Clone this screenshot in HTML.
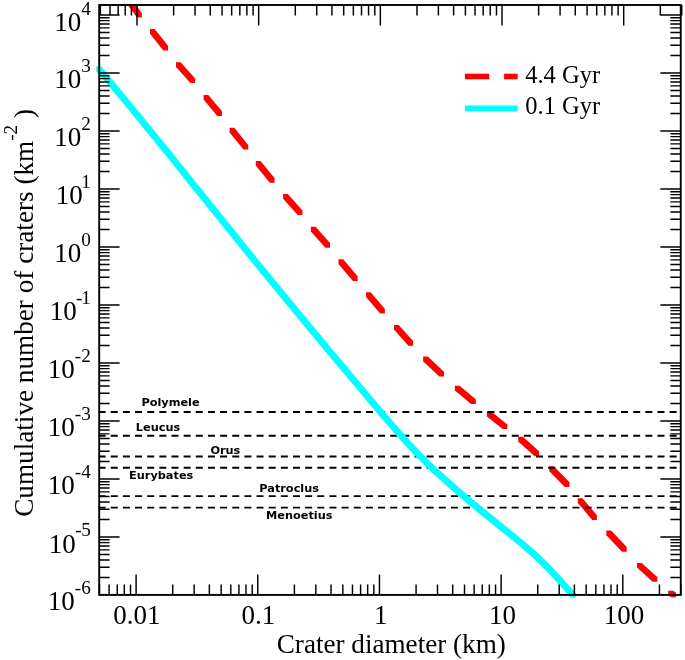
<!DOCTYPE html>
<html><head><meta charset="utf-8"><title>Cumulative number of craters</title>
<style>html,body{margin:0;padding:0;background:#fff}svg{display:block}text{font-family:"Liberation Serif","Times New Roman",serif;fill:#000}.n{font-family:"DejaVu Sans","Liberation Sans",sans-serif;font-weight:bold;font-size:11.3px}</style>
</head><body>
<svg width="685" height="660" viewBox="0 0 685 660">
<rect width="685" height="660" fill="#fff"/>
<clipPath id="cp"><rect x="0" y="4" width="685" height="656"/></clipPath>
<g fill="#ff0000" clip-path="url(#cp)">
<polygon points="126.00,-2.00 130.70,-2.00 141.80,12.90 141.80,17.60 137.10,17.60 126.00,2.70"/>
<polygon points="150.00,29.10 154.70,29.10 168.00,45.80 168.00,50.50 163.30,50.50 150.00,33.80"/>
<polygon points="176.00,62.20 180.70,62.20 195.10,78.40 195.10,83.10 190.40,83.10 176.00,66.90"/>
<polygon points="203.60,94.90 208.30,94.90 222.00,111.30 222.00,116.00 217.30,116.00 203.60,99.60"/>
<polygon points="229.60,127.80 234.30,127.80 248.20,144.90 248.20,149.60 243.50,149.60 229.60,132.50"/>
<polygon points="255.80,160.90 260.50,160.90 274.50,178.00 274.50,182.70 269.80,182.70 255.80,165.60"/>
<polygon points="283.10,194.00 287.80,194.00 302.40,210.40 302.40,215.10 297.70,215.10 283.10,198.70"/>
<polygon points="310.90,226.70 315.60,226.70 330.00,243.10 330.00,247.80 325.30,247.80 310.90,231.40"/>
<polygon points="338.50,259.30 343.20,259.30 357.60,276.20 357.60,280.90 352.90,280.90 338.50,264.00"/>
<polygon points="366.00,292.30 370.70,292.30 384.90,308.90 384.90,313.60 380.20,313.60 366.00,297.00"/>
<polygon points="394.00,324.90 398.70,324.90 413.10,341.10 413.10,345.80 408.40,345.80 394.00,329.60"/>
<polygon points="423.10,356.50 427.80,356.50 444.00,371.80 444.00,376.50 439.30,376.50 423.10,361.20"/>
<polygon points="454.90,385.80 459.60,385.80 475.80,399.30 475.80,404.00 471.10,404.00 454.90,390.50"/>
<polygon points="486.90,411.80 491.60,411.80 507.30,424.40 507.30,429.10 502.60,429.10 486.90,416.50"/>
<polygon points="518.20,436.70 522.90,436.70 539.10,451.30 539.10,456.00 534.40,456.00 518.20,441.40"/>
<polygon points="549.10,466.20 553.80,466.20 569.50,482.20 569.50,486.90 564.80,486.90 549.10,470.90"/>
<polygon points="577.80,498.20 582.50,498.20 596.90,515.20 596.90,519.90 592.20,519.90 577.80,502.90"/>
<polygon points="606.40,530.60 611.10,530.60 626.70,547.10 626.70,551.80 622.00,551.80 606.40,535.30"/>
<polygon points="637.00,562.90 641.70,562.90 657.30,577.10 657.30,581.80 652.60,581.80 637.00,567.60"/>
<polygon points="668.20,590.80 672.90,590.80 676.00,592.60 676.00,597.30 671.30,597.30 668.20,595.50"/>
</g>
<g stroke="#000" stroke-width="1.8" stroke-dasharray="7.0 5.15" fill="none">
<line x1="98.6" y1="412.0" x2="680.75" y2="412.0"/>
<line x1="98.6" y1="435.75" x2="680.75" y2="435.75"/>
<line x1="98.6" y1="456.5" x2="680.75" y2="456.5"/>
<line x1="98.6" y1="467.75" x2="680.75" y2="467.75"/>
<line x1="98.6" y1="496.1" x2="680.75" y2="496.1"/>
<line x1="98.6" y1="507.7" x2="680.75" y2="507.7"/>
</g>
<polyline points="98.80,68.89 102.80,73.62 106.80,78.38 110.80,83.15 114.80,87.94 118.80,92.75 122.80,97.58 126.80,102.42 130.80,107.27 134.80,112.14 138.80,117.02 142.80,121.92 146.80,126.82 150.80,131.74 154.80,136.66 158.80,141.60 162.80,146.54 166.80,151.50 170.80,156.45 174.80,161.42 178.80,166.39 182.80,171.36 186.80,176.34 190.80,181.31 194.80,186.30 198.80,191.28 202.80,196.26 206.80,201.24 210.80,206.22 214.80,211.20 218.80,216.18 222.80,221.15 226.80,226.12 230.80,231.08 234.80,236.04 238.80,240.99 242.80,245.93 246.80,250.86 250.80,255.78 254.80,260.70 258.80,265.61 262.80,270.50 266.80,275.39 270.80,280.28 274.80,285.15 278.80,290.02 282.80,294.88 286.80,299.73 290.80,304.57 294.80,309.41 298.80,314.25 302.80,319.07 306.80,323.89 310.80,328.71 314.80,333.52 318.80,338.32 322.80,343.12 326.80,347.92 330.80,352.71 334.80,357.49 338.80,362.27 342.80,367.05 346.80,371.83 350.80,376.60 354.80,381.36 358.80,386.13 362.80,390.89 366.80,395.65 370.80,400.41 374.80,405.16 378.80,409.91 382.80,414.63 386.80,419.33 390.80,423.98 394.80,428.60 398.80,433.15 402.80,437.65 406.80,442.07 410.80,446.41 414.80,450.66 418.80,454.81 422.80,458.86 426.80,462.80 430.80,466.65 434.80,470.42 438.80,474.13 442.80,477.78 446.80,481.37 450.80,484.93 454.80,488.43 458.80,491.90 462.80,495.33 466.80,498.72 470.80,502.08 474.80,505.41 478.80,508.72 482.80,512.00 486.80,515.27 490.80,518.52 494.80,521.75 498.80,524.98 502.80,528.19 506.80,531.41 510.80,534.63 514.80,537.86 518.80,541.14 522.80,544.46 526.80,547.86 530.80,551.34 534.80,554.92 538.80,558.62 542.80,562.45 546.80,566.43 550.80,570.58 554.80,574.90 558.80,579.32 562.80,583.78 566.80,588.21 570.80,592.52 573.30,595.13" fill="none" stroke="#00ffff" stroke-width="6.9" stroke-linejoin="round"/>
<rect x="96.30" y="66.39" width="5.0" height="5.0" fill="#00ffff"/>
<rect x="570.80" y="592.63" width="5.0" height="5.0" fill="#00ffff"/>
<rect x="99.2" y="5.0" width="581.55" height="589.90" fill="none" stroke="#000" stroke-width="1.9"/>
<path d="M99.47 594.9v-10.4M100.37 5.0v10.4M109.11 594.9v-10.4M110.01 5.0v10.4M117.25 594.9v-10.4M118.15 5.0v10.4M124.31 594.9v-10.4M125.21 5.0v10.4M130.53 594.9v-10.4M131.43 5.0v10.4M136.10 594.9v-20.4M137.00 5.0v20.4M172.73 594.9v-10.4M173.63 5.0v10.4M194.15 594.9v-10.4M195.05 5.0v10.4M209.36 594.9v-10.4M210.26 5.0v10.4M221.15 594.9v-10.4M222.05 5.0v10.4M230.78 594.9v-10.4M231.68 5.0v10.4M238.93 594.9v-10.4M239.83 5.0v10.4M245.98 594.9v-10.4M246.88 5.0v10.4M252.21 594.9v-10.4M253.11 5.0v10.4M257.77 594.9v-20.4M258.67 5.0v20.4M294.40 594.9v-10.4M295.30 5.0v10.4M315.83 594.9v-10.4M316.73 5.0v10.4M331.03 594.9v-10.4M331.93 5.0v10.4M342.82 594.9v-10.4M343.72 5.0v10.4M352.46 594.9v-10.4M353.36 5.0v10.4M360.60 594.9v-10.4M361.50 5.0v10.4M367.66 594.9v-10.4M368.56 5.0v10.4M373.88 594.9v-10.4M374.78 5.0v10.4M379.45 594.9v-20.4M380.35 5.0v20.4M416.08 594.9v-10.4M416.98 5.0v10.4M437.50 594.9v-10.4M438.40 5.0v10.4M452.71 594.9v-10.4M453.61 5.0v10.4M464.50 594.9v-10.4M465.40 5.0v10.4M474.13 594.9v-10.4M475.03 5.0v10.4M482.28 594.9v-10.4M483.18 5.0v10.4M489.33 594.9v-10.4M490.23 5.0v10.4M495.56 594.9v-10.4M496.46 5.0v10.4M501.12 594.9v-20.4M502.02 5.0v20.4M537.75 594.9v-10.4M538.65 5.0v10.4M559.18 594.9v-10.4M560.08 5.0v10.4M574.38 594.9v-10.4M575.28 5.0v10.4M586.17 594.9v-10.4M587.07 5.0v10.4M595.81 594.9v-10.4M596.71 5.0v10.4M603.95 594.9v-10.4M604.85 5.0v10.4M611.01 594.9v-10.4M611.91 5.0v10.4M617.23 594.9v-10.4M618.13 5.0v10.4M622.80 594.9v-20.4M623.70 5.0v20.4M659.43 594.9v-10.4M660.33 5.0v10.4M680.85 594.9v-10.4M681.75 5.0v10.4M99.2 577.54h10.4M680.75 577.54h-10.4M99.2 567.33h10.4M680.75 567.33h-10.4M99.2 560.08h10.4M680.75 560.08h-10.4M99.2 554.46h10.4M680.75 554.46h-10.4M99.2 549.87h10.4M680.75 549.87h-10.4M99.2 545.98h10.4M680.75 545.98h-10.4M99.2 542.62h10.4M680.75 542.62h-10.4M99.2 539.65h10.4M680.75 539.65h-10.4M99.2 537.00h20.4M680.75 537.00h-20.4M99.2 519.54h10.4M680.75 519.54h-10.4M99.2 509.33h10.4M680.75 509.33h-10.4M99.2 502.08h10.4M680.75 502.08h-10.4M99.2 496.46h10.4M680.75 496.46h-10.4M99.2 491.87h10.4M680.75 491.87h-10.4M99.2 487.98h10.4M680.75 487.98h-10.4M99.2 484.62h10.4M680.75 484.62h-10.4M99.2 481.65h10.4M680.75 481.65h-10.4M99.2 479.00h20.4M680.75 479.00h-20.4M99.2 461.54h10.4M680.75 461.54h-10.4M99.2 451.33h10.4M680.75 451.33h-10.4M99.2 444.08h10.4M680.75 444.08h-10.4M99.2 438.46h10.4M680.75 438.46h-10.4M99.2 433.87h10.4M680.75 433.87h-10.4M99.2 429.98h10.4M680.75 429.98h-10.4M99.2 426.62h10.4M680.75 426.62h-10.4M99.2 423.65h10.4M680.75 423.65h-10.4M99.2 421.00h20.4M680.75 421.00h-20.4M99.2 403.54h10.4M680.75 403.54h-10.4M99.2 393.33h10.4M680.75 393.33h-10.4M99.2 386.08h10.4M680.75 386.08h-10.4M99.2 380.46h10.4M680.75 380.46h-10.4M99.2 375.87h10.4M680.75 375.87h-10.4M99.2 371.98h10.4M680.75 371.98h-10.4M99.2 368.62h10.4M680.75 368.62h-10.4M99.2 365.65h10.4M680.75 365.65h-10.4M99.2 363.00h20.4M680.75 363.00h-20.4M99.2 345.54h10.4M680.75 345.54h-10.4M99.2 335.33h10.4M680.75 335.33h-10.4M99.2 328.08h10.4M680.75 328.08h-10.4M99.2 322.46h10.4M680.75 322.46h-10.4M99.2 317.87h10.4M680.75 317.87h-10.4M99.2 313.98h10.4M680.75 313.98h-10.4M99.2 310.62h10.4M680.75 310.62h-10.4M99.2 307.65h10.4M680.75 307.65h-10.4M99.2 305.00h20.4M680.75 305.00h-20.4M99.2 287.54h10.4M680.75 287.54h-10.4M99.2 277.33h10.4M680.75 277.33h-10.4M99.2 270.08h10.4M680.75 270.08h-10.4M99.2 264.46h10.4M680.75 264.46h-10.4M99.2 259.87h10.4M680.75 259.87h-10.4M99.2 255.98h10.4M680.75 255.98h-10.4M99.2 252.62h10.4M680.75 252.62h-10.4M99.2 249.65h10.4M680.75 249.65h-10.4M99.2 247.00h20.4M680.75 247.00h-20.4M99.2 229.54h10.4M680.75 229.54h-10.4M99.2 219.33h10.4M680.75 219.33h-10.4M99.2 212.08h10.4M680.75 212.08h-10.4M99.2 206.46h10.4M680.75 206.46h-10.4M99.2 201.87h10.4M680.75 201.87h-10.4M99.2 197.98h10.4M680.75 197.98h-10.4M99.2 194.62h10.4M680.75 194.62h-10.4M99.2 191.65h10.4M680.75 191.65h-10.4M99.2 189.00h20.4M680.75 189.00h-20.4M99.2 171.54h10.4M680.75 171.54h-10.4M99.2 161.33h10.4M680.75 161.33h-10.4M99.2 154.08h10.4M680.75 154.08h-10.4M99.2 148.46h10.4M680.75 148.46h-10.4M99.2 143.87h10.4M680.75 143.87h-10.4M99.2 139.98h10.4M680.75 139.98h-10.4M99.2 136.62h10.4M680.75 136.62h-10.4M99.2 133.65h10.4M680.75 133.65h-10.4M99.2 131.00h20.4M680.75 131.00h-20.4M99.2 113.54h10.4M680.75 113.54h-10.4M99.2 103.33h10.4M680.75 103.33h-10.4M99.2 96.08h10.4M680.75 96.08h-10.4M99.2 90.46h10.4M680.75 90.46h-10.4M99.2 85.87h10.4M680.75 85.87h-10.4M99.2 81.98h10.4M680.75 81.98h-10.4M99.2 78.62h10.4M680.75 78.62h-10.4M99.2 75.65h10.4M680.75 75.65h-10.4M99.2 73.00h20.4M680.75 73.00h-20.4M99.2 55.54h10.4M680.75 55.54h-10.4M99.2 45.33h10.4M680.75 45.33h-10.4M99.2 38.08h10.4M680.75 38.08h-10.4M99.2 32.46h10.4M680.75 32.46h-10.4M99.2 27.87h10.4M680.75 27.87h-10.4M99.2 23.98h10.4M680.75 23.98h-10.4M99.2 20.62h10.4M680.75 20.62h-10.4M99.2 17.65h10.4M680.75 17.65h-10.4M99.2 15.00h20.4M680.75 15.00h-20.4" stroke="#000" stroke-width="1.45" fill="none"/>
<g font-size="27px" text-anchor="middle">
<text x="136.80" y="624">0.01</text>
<text x="258.38" y="624">0.1</text>
<text x="380.85" y="624">1</text>
<text x="502.62" y="624">10</text>
<text x="623.90" y="624">100</text>
</g>
<g font-size="27px" text-anchor="end">
<text x="90.8" y="30.90">10<tspan font-size="19.2px" dy="-16.4" dx="0">4</tspan></text>
<text x="90.8" y="88.20">10<tspan font-size="19.2px" dy="-16.4" dx="0">3</tspan></text>
<text x="90.8" y="146.20">10<tspan font-size="19.2px" dy="-16.4" dx="0">2</tspan></text>
<text x="90.8" y="204.20">10<tspan font-size="19.2px" dy="-16.4" dx="-1.5">1</tspan></text>
<text x="90.8" y="262.20">10<tspan font-size="19.2px" dy="-16.4" dx="0">0</tspan></text>
<text x="90.8" y="320.20">10<tspan font-size="19.2px" dy="-16.4" dx="-0.7">-</tspan><tspan font-size="19.2px" dx="-1.3">1</tspan></text>
<text x="90.8" y="378.20">10<tspan font-size="19.2px" dy="-16.4" dx="0">-</tspan><tspan font-size="19.2px" dx="0">2</tspan></text>
<text x="90.8" y="436.20">10<tspan font-size="19.2px" dy="-16.4" dx="0">-</tspan><tspan font-size="19.2px" dx="0">3</tspan></text>
<text x="90.8" y="494.20">10<tspan font-size="19.2px" dy="-16.4" dx="0">-</tspan><tspan font-size="19.2px" dx="0">4</tspan></text>
<text x="90.8" y="552.80">10<tspan font-size="19.2px" dy="-16.4" dx="-0.5">-</tspan><tspan font-size="19.2px" dx="-0.5">5</tspan></text>
<text x="90.8" y="610.20">10<tspan font-size="19.2px" dy="-16.4" dx="0">-</tspan><tspan font-size="19.2px" dx="0">6</tspan></text>
</g>
<text x="391.3" y="652.5" font-size="27.15px" text-anchor="middle">Crater diameter (km)</text>
<text transform="translate(33.3,516.8) rotate(-90)" font-size="27.2px">Cumulative number of craters (km<tspan font-size="19.2px" dy="-16.6">-2</tspan><tspan dy="16.6"> )</tspan></text>
<line x1="464.9" y1="76.5" x2="489.2" y2="76.5" stroke="#ff0000" stroke-width="5.6"/>
<line x1="504.1" y1="76.5" x2="517.6" y2="76.5" stroke="#ff0000" stroke-width="5.6"/>
<line x1="464.9" y1="108.4" x2="517.6" y2="108.4" stroke="#00ffff" stroke-width="5.6"/>
<text x="525.2" y="82.5" font-size="24.5px">4.4 Gyr</text>
<text x="525.2" y="114.1" font-size="24.5px">0.1 Gyr</text>
<text class="n" x="141.4" y="406.4">Polymele</text>
<text class="n" x="135.8" y="430.9">Leucus</text>
<text class="n" x="210.4" y="454.0">Orus</text>
<text class="n" x="129.1" y="479.3">Eurybates</text>
<text class="n" x="259.3" y="492.2">Patroclus</text>
<text class="n" x="266.1" y="519.1">Menoetius</text>
</svg></body></html>
